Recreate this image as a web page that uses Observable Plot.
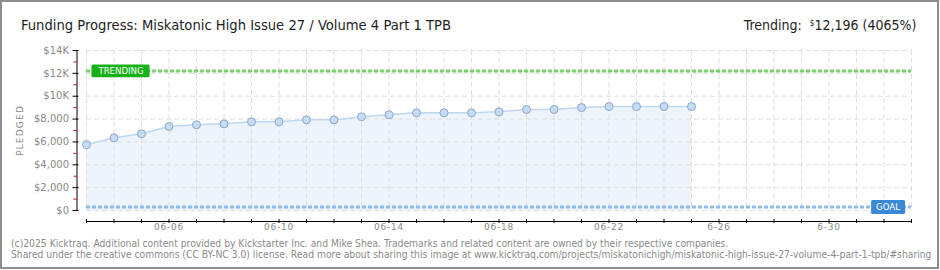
<!DOCTYPE html>
<html><head><meta charset="utf-8">
<script src="https://cdn.jsdelivr.net/npm/d3@7"></script>
<script src="https://cdn.jsdelivr.net/npm/@observablehq/plot@0.6"></script>
<style>
body{margin:0;background:#fff;}
#wrap{position:relative;width:940px;height:270px;overflow:hidden;background:#fff;}
#frame{position:absolute;left:0;top:0;width:939px;height:269px;border:2px solid #8d8d8d;box-sizing:border-box;z-index:3;}
#chart{position:absolute;left:0;top:0;}
.t{position:absolute;white-space:nowrap;line-height:14px;font-size:14px;font-family:"DejaVu Sans Condensed","DejaVu Sans",sans-serif;color:#1e1e1e;}
.f{position:absolute;white-space:nowrap;line-height:10px;font-size:10px;font-family:"DejaVu Sans",sans-serif;color:#8a8a8a;left:10.7px;}
sup{font-size:8px;vertical-align:0;position:relative;top:-4px;}
</style></head><body>
<div id="wrap">
  <div id="chart"></div>
  <div id="title" class="t" style="left:20.5px;top:17.5px;">Funding Progress: Miskatonic High Issue 27 / Volume 4 Part 1 TPB</div>
  <div id="trend" class="t" style="right:23.3px;top:17.5px;">Trending:&nbsp;&nbsp;<sup>$</sup>12,196 (4065%)</div>
  <div id="foot1" class="f" style="top:238.5px;">(c)2025 Kicktraq. Additional content provided by Kickstarter Inc. and Mike Shea. Trademarks and related content are owned by their respective companies.</div>
  <div id="foot2" class="f" style="top:249.7px;">Shared under the creative commons (CC BY-NC 3.0) license. Read more about sharing this image at www.kicktraq.com/projects/miskatonichigh/miskatonic-high-issue-27-volume-4-part-1-tpb/#sharing</div>
  <div id="frame"></div>
</div>
<script>
// ---- data ----
const dates = ["2025-06-03","2025-06-04","2025-06-05","2025-06-06","2025-06-07","2025-06-08","2025-06-09","2025-06-10","2025-06-11","2025-06-12","2025-06-13","2025-06-14","2025-06-15","2025-06-16","2025-06-17","2025-06-18","2025-06-19","2025-06-20","2025-06-21","2025-06-22","2025-06-23","2025-06-24","2025-06-25"];
const pledged = [5750,6360,6710,7350,7500,7580,7760,7760,7930,7930,8200,8370,8550,8550,8550,8630,8840,8840,9010,9100,9090,9090,9090];
const goal = 300;
const trending = 12196;
const xDomain = ["2025-06-03","2025-07-03"];
const yDomain = [0, 14000];
const yTickVals = [0,2000,4000,6000,8000,10000,12000,14000];
const yTickLabels = ["$0","$2,000","$4,000","$6,000","$8,000","$10K","$12K","$14K"];
const yMinorVals = [1000,3000,5000,7000,9000,11000,13000];
const xTickDates = ["2025-06-06","2025-06-10","2025-06-14","2025-06-18","2025-06-22","2025-06-26","2025-06-30"];
const xTickLabels = ["06-06","06-10","06-14","06-18","06-22","6-26","6-30"];

const rows = dates.map((d,i)=>({date:new Date(d), value:pledged[i]}));
const x0 = new Date(xDomain[0]), x1 = new Date(xDomain[1]);
const days = d3.utcDay.range(x0, d3.utcDay.offset(x1, 1));
const xTicks = xTickDates.map((d,i)=>({date:new Date(d), label:xTickLabels[i]}));
const gridStyle = {stroke:"#dedede", strokeOpacity:1, strokeWidth:1, strokeDasharray:"5,3"};

const chart = Plot.plot({
  width: 940, height: 270,
  marginLeft: 86, marginRight: 29, marginTop: 50, marginBottom: 60,
  x: {type:"utc", domain:[x0, x1], axis:null},
  y: {domain:yDomain, axis:null},
  style: {fontFamily:"DejaVu Sans", fontSize:"10px", color:"#888", background:"transparent", overflow:"visible"},
  marks: [
    Plot.areaY(rows, {x:"date", y:"value", fill:"#edf4fc"}),
    Plot.gridX(days, gridStyle),
    Plot.gridY(yTickVals, gridStyle),
    Plot.lineY(rows, {x:"date", y:"value", stroke:"#bfd7f1", strokeWidth:1.5}),
    Plot.ruleY([trending], {stroke:"#76d266", strokeWidth:3, strokeDasharray:"4,2"}),
    Plot.ruleY([goal], {stroke:"#90bbea", strokeWidth:3, strokeDasharray:"4,2"}),
    Plot.dot(rows, {x:"date", y:"value", r:4, fill:"#c4dcf6", stroke:"#8ea6c8", strokeWidth:1}),
    // y axis
    Plot.ruleX([x0], {y1:yDomain[0], y2:yDomain[1], dx:-9.5, stroke:"#000"}),
    Plot.ruleY(yTickVals, {x1:()=>x0, x2:()=>x0, dx:-9.5, insetLeft:-4, insetRight:-2, stroke:"#000"}),
    Plot.ruleY(yMinorVals, {x1:()=>x0, x2:()=>x0, dx:-9.5, insetLeft:-3, insetRight:0, stroke:"#e00000"}),
    Plot.text(yTickVals, {y:d=>d, frameAnchor:"left", dx:-17.5, textAnchor:"end", text:(d,i)=>yTickLabels[i], fill:"#888"}),
    Plot.text(["PLEDGED"], {frameAnchor:"left", dx:-66, rotate:-90, textAnchor:"middle", text:d=>d, fill:"#888", fontSize:9}),
    // x axis
    Plot.ruleY([yDomain[0]], {dy:11, stroke:"#000"}),
    Plot.ruleX(days, {y1:yDomain[0], y2:yDomain[0], dy:11, insetTop:-2, insetBottom:-2, stroke:"#000"}),
    Plot.text(xTicks, {x:"date", frameAnchor:"bottom", dy:19, text:"label", fill:"#888", fontSize:9}),
    // labels
    Plot.text([trending], {y:d=>d, frameAnchor:"left", dx:34.5, textAnchor:"middle", text:()=>"TRENDING", fill:"#fff", fontFamily:"DejaVu Sans Condensed", fontSize:9.5}),
    Plot.text([goal], {y:d=>d, frameAnchor:"right", dx:-23.5, textAnchor:"middle", text:()=>"GOAL", fill:"#fff", fontFamily:"DejaVu Sans Condensed", fontSize:9.5})
  ]
});
document.getElementById("chart").appendChild(chart);

// label boxes behind TRENDING / GOAL; spacing for small axis texts
d3.select(chart).selectAll("text").each(function(){
  const t = this.textContent;
  if (t === "PLEDGED") this.setAttribute("letter-spacing", "1.2");
  if (xTickLabels.includes(t)) this.setAttribute("letter-spacing", "0.8");
  if (t !== "TRENDING" && t !== "GOAL") return;
  const b = this.getBBox();
  const padX = t === "TRENDING" ? 6 : 5;
  const h = t === "TRENDING" ? 12.7 : 14;
  const cy = b.y + b.height/2 + 0.3;
  const r = document.createElementNS("http://www.w3.org/2000/svg","rect");
  r.setAttribute("x", b.x - padX);
  r.setAttribute("y", cy - h/2);
  r.setAttribute("width", b.width + 2*padX);
  r.setAttribute("height", h);
  r.setAttribute("rx", 1.5);
  r.setAttribute("fill", t === "TRENDING" ? "#16b116" : "#3a89d6");
  const tr = this.getAttribute("transform");
  if (tr) r.setAttribute("transform", tr);
  this.parentNode.insertBefore(r, this);
});

// fit header / footer text widths
function fit(el, target, origin){
  const w = el.getBoundingClientRect().width;
  el.style.transformOrigin = origin;
  el.style.transform = `scaleX(${target/w})`;
  return target/w;
}
fit(document.getElementById("title"), 430, "left center");
fit(document.getElementById("trend"), 172.7, "right center");
const s = fit(document.getElementById("foot1"), 717.3, "left center");
const f2 = document.getElementById("foot2");
f2.style.transformOrigin = "left center";
f2.style.transform = `scaleX(${s})`;
</script>
</body></html>
